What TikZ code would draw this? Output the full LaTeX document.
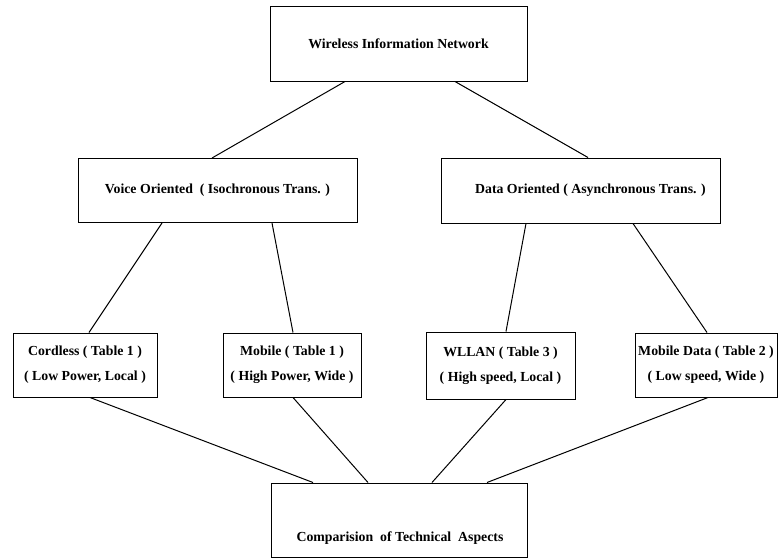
\documentclass[tikz,border=0pt]{standalone}
\usepackage{fontspec}
\setmainfont{Liberation Serif}
\usetikzlibrary{calc}
\begin{document}
\begin{tikzpicture}[x=1pt,y=-1pt,
  box/.style={draw, line width=1pt, rectangle, inner sep=0pt, align=center,
    font=\bfseries\fontsize{13.8}{16}\selectfont},
  leaf/.style={box, minimum height=64pt},
  link/.style={line width=1pt}]
\useasboundingbox (0,0) rectangle (779,558);

% hierarchy boxes
\node[box, minimum width=257pt, minimum height=75pt] (top) at (398.5,43.5) {Wireless Information Network};
\node[box, minimum width=279pt, minimum height=64pt] (voice) at (217.5,190.5) {Voice Oriented \ ( Isochronous Trans. )};
\node[box, minimum width=279pt, minimum height=65pt] (data) at (580.5,190.5) {\hspace*{20pt}Data Oriented ( Asynchronous Trans. )};

\node[leaf, minimum width=144pt] (cordless) at (85,365) {Cordless ( Table 1 )\\[9pt]( Low Power, Local )};
\node[leaf, minimum width=138pt] (mobile) at (292,365) {Mobile ( Table 1 )\\[9pt]( High Power, Wide )};
\node[leaf, minimum width=149pt, minimum height=67pt] (wllan) at (500.5,365.5) {WLLAN ( Table 3 )\\[9pt]( High speed, Local )};
\node[leaf, minimum width=142pt] (mdata) at (706,365) {Mobile Data ( Table 2 )\\[9pt]( Low speed, Wide )};

\node[box, minimum width=256pt, minimum height=74pt] (cmp) at (399,520) {};
\node[font=\bfseries\fontsize{13.8}{16}\selectfont, inner sep=0pt] (cmptext) at (400,538) {Comparision \ of Technical \ Aspects};

% connectors
\draw[link] ($(top.south)+(-53.5,0)$) -- ($(voice.north)+(-5.5,0)$);
\draw[link] ($(top.south)+(56.5,0)$) -- ($(data.north)+(7.5,0)$);
\draw[link] ($(voice.south)+(-55.5,0)$) -- ($(cordless.north)+(4,0)$);
\draw[link] ($(voice.south)+(54.5,0)$) -- ($(mobile.north)+(1,0)$);
\draw[link] ($(data.south)+(-54.5,0)$) -- ($(wllan.north)+(5.5,0)$);
\draw[link] ($(data.south)+(52.5,0)$) -- ($(mdata.north)+(1,0)$);
\draw[link] ($(cordless.south)+(5,0)$) -- ($(cmp.north)+(-86,0)$);
\draw[link] ($(mobile.south)+(1,0)$) -- ($(cmp.north)+(-31,0)$);
\draw[link] ($(wllan.south)+(5.5,0)$) -- ($(cmp.north)+(33,0)$);
\draw[link] ($(mdata.south)+(2,0)$) -- ($(cmp.north)+(88,0)$);
\end{tikzpicture}
\end{document}
